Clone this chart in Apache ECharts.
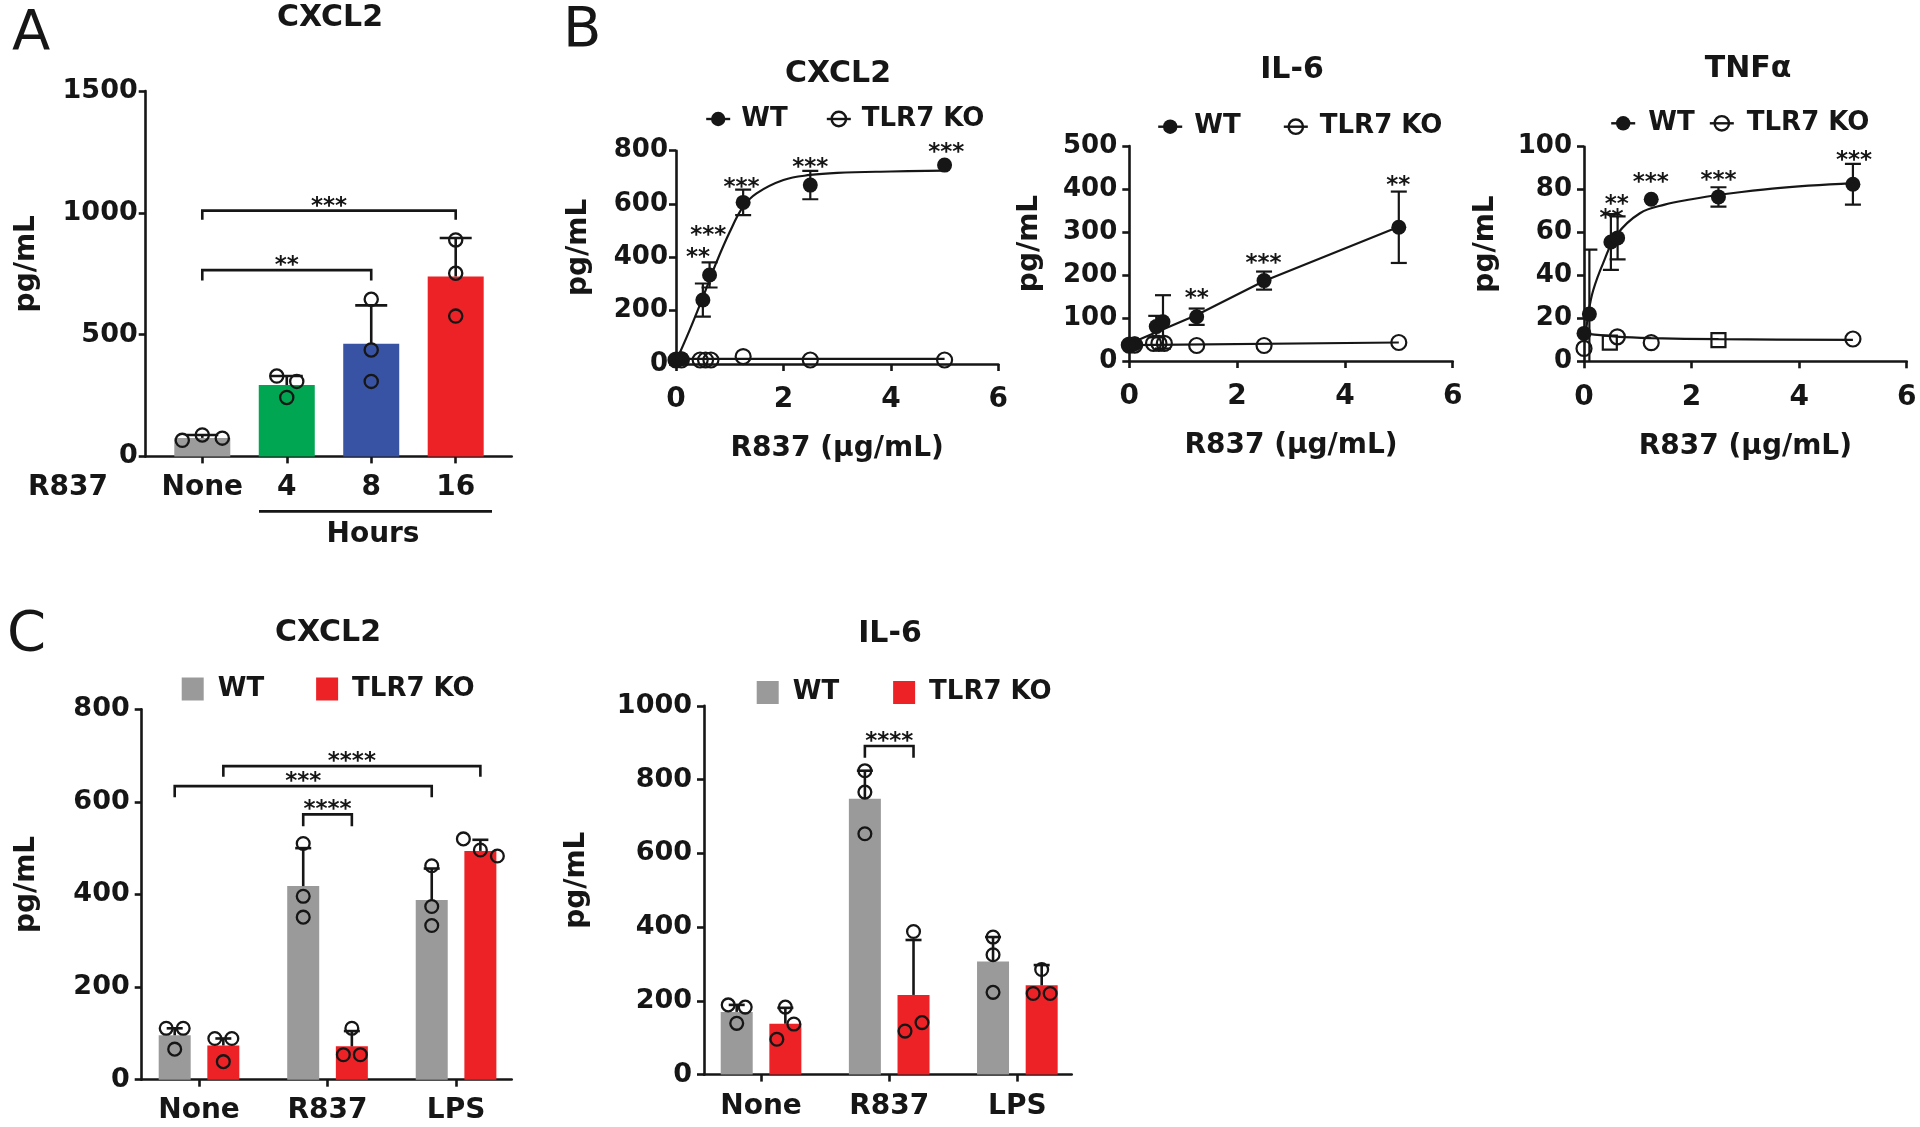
<!DOCTYPE html>
<html>
<head>
<meta charset="utf-8">
<script src="https://cdn.jsdelivr.net/npm/echarts@6/dist/echarts.min.js"></script>
<style>
html,body{margin:0;padding:0;background:#ffffff;}
#chart{width:1920px;height:1127px;}
</style>
</head>
<body>
<div id="chart"></div>
<script>
// ================= DATA =================
// Panel A : CXCL2, R837 time course
const aCategories = ['None', '4', '8', '16'];
const aMeans = [76, 293, 463, 739];
const aUpper = [88, 330, 620, 897];
const aPoints = [[66, 88, 75], [330, 242, 308], [645, 437, 308], [889, 752, 576]];
const aColors = ['#9c9c9c', '#00a651', '#3953a4', '#ec2227'];
const aBrackets = [[0, 2, 765, 722], [0, 3, 1009, 972]];   // from, to, top, leg end
const aBracketStars = ['**', '***'];

// Panel B : dose response (R837 ug/mL)
const bWtDose = [0, 0.1, 0.5, 0.625, 1.25, 2.5, 5];
const bKoDose = [0, 0.1, 0.45, 0.55, 0.65, 1.25, 2.5, 5];
const tnfKoDose = [0, 0.48, 0.62, 1.25, 2.5, 5];
const tnfKoSymbols = ['circle', 'rect', 'circle', 'circle', 'rect', 'circle'];

const b1WtMean = [15, 20, 240, 334, 606, 671, 746];
const b1WtSd = [0, 0, 62, 47, 48, 53, 0];
const b1KoMean = [15, 15, 15, 15, 15, 28, 15, 15];
const b1WtFit = [[0, 10], [0.25, 125], [0.5, 250], [0.75, 380], [1, 495], [1.25, 590], [1.5, 640], [2, 690], [2.5, 709], [3, 717], [4, 722], [5, 725]];
const b1KoFit = [[0, 19], [5, 19]];
const b1StarPos = [[0.41, 421], [0.6, 502], [1.22, 684], [2.5, 756], [5.03, 813]];
const b1Stars = ['**', '***', '***', '***', '***'];

const b2WtMean = [37, 40, 80, 91, 103, 187, 311];
const b2WtSd = [0, 0, 25, 62, 19, 21, 83];
const b2KoMean = [37, 37, 41, 41, 41, 36, 36, 43];
const b2WtFit = [[0, 40], [1.25, 107], [2.5, 186], [5, 312]];
const b2KoFit = [[0, 37], [5, 43]];
const b2StarPos = [[1.25, 157], [2.49, 239], [4.99, 421]];
const b2Stars = ['**', '***', '**'];

const b3WtMean = [13, 22, 55.6, 57.5, 75.5, 76.6, 82.5];
const b3WtSd = [0, 30, 13, 10, 0, 4.5, 9.5];
const b3KoMean = [6, 8.7, 11.4, 8.7, 9.9, 10.4];
const b3WtFit = [[0.02, 10], [0.08, 22], [0.17, 33], [0.36, 46], [0.61, 59], [1.04, 69], [1.5, 73], [2, 75.5], [2.5, 77.5], [3.5, 80.5], [5, 83]];
const b3KoFit = [[0, 13], [0.6, 11.5], [1.25, 10.8], [2.5, 10.3], [5, 10]];
const b3StarPos = [[0.51, 69], [0.61, 75.4], [1.24, 86], [2.5, 86.7], [5.02, 96]];
const b3Stars = ['**', '**', '***', '***', '***'];

// Panel C : WT vs TLR7 KO
const cCategories = ['None', 'R837', 'LPS'];
const c1WtMean = [96, 418, 388];
const c1KoMean = [74, 72, 494];
const c1WtUpper = [111, 500, 456];
const c1KoUpper = [89, 105, 518];
const c1WtPoints = [[111, 111, 66], [510, 396, 351], [462, 374, 333]];
const c1KoPoints = [[89, 89, 39], [111, 54, 54], [520, 496, 483]];
const c1Brackets = [[0, 1, 2, 1, 677, 654], [0, -1, 2, -1, 634, 610], [1, -1, 1, 1, 573, 547]]; // cat,side,cat,side,top,leg
const c1BracketStars = ['****', '***', '****'];

const c2WtMean = [170, 748, 307];
const c2KoMean = [138, 216, 242];
const c2WtUpper = [189, 824, 373];
const c2KoUpper = [181, 365, 297];
const c2WtPoints = [[189, 183, 139], [824, 766, 653], [373, 325, 223]];
const c2KoPoints = [[183, 96, 137], [388, 118, 141], [285, 220, 220]];
const c2Brackets = [[1, -1, 1, 1, 891, 859]];
const c2BracketStars = ['****'];

// ================= STYLE / LAYOUT =================
const INK = '#161616';
const FONT = 'DejaVu Sans';
const LW = 2.6;
const STAR_FONT = 'bold 23px "DejaVu Sans"';
const STAR_SHIFT = 6;
const C_BAR_W = 32, C_BAR_GAP = 0.52;
const C_OFF = (C_BAR_W + C_BAR_W * C_BAR_GAP) / 2;

const grids = [
  {left: 145.7, top: 91.1, width: 366, height: 365.3},
  {left: 676, top: 150.7, width: 322.3, height: 213.3},
  {left: 1129.3, top: 146, width: 323.4, height: 215},
  {left: 1584, top: 146.7, width: 322.7, height: 214.6},
  {left: 141.7, top: 709.2, width: 370, height: 370.5},
  {left: 704, top: 705.8, width: 367.7, height: 368.8}
].map(g => Object.assign({containLabel: false, outerBoundsMode: 'none', show: false}, g));

function axis(gi, o) {
  const ax = {
    type: 'value', gridIndex: gi, min: o.min, max: o.max,
    axisLine: {show: true, onZero: false, lineStyle: {color: INK, width: LW}},
    axisTick: {show: true, inside: false, length: 7, lineStyle: {color: INK, width: LW}},
    axisLabel: {show: true, color: INK, fontFamily: FONT, fontWeight: 'bold', fontSize: o.fs || 26,
      margin: o.margin, formatter: o.fmt || (v => String(v))},
    splitLine: {show: false}
  };
  if (o.interval) ax.interval = o.interval;
  if (o.ticks) { ax.axisTick.customValues = o.ticks; ax.axisLabel.customValues = o.ticks; }
  if (o.name) {
    ax.name = o.name; ax.nameLocation = 'middle'; ax.nameGap = o.nameGap;
    ax.nameTextStyle = {color: INK, fontFamily: FONT, fontWeight: 'bold', fontSize: 28, lineHeight: 28, padding: o.namePad || 0};
  }
  return ax;
}
const catFmt = cats => (v => { const i = Math.round(v); return Math.abs(v - i) < 1e-6 && cats[i] !== undefined ? cats[i] : ''; });
const YPAD = [0, 0, 0, 20];
const xAxes = [
  axis(0, {min: -0.67, max: 3.663, ticks: [0, 1, 2, 3], fmt: catFmt(aCategories), fs: 28, margin: 17}),
  axis(1, {min: 0, max: 6, interval: 2, fs: 28, margin: 22, name: 'R837 (μg/mL)', nameGap: 71}),
  axis(2, {min: 0, max: 6, interval: 2, fs: 28, margin: 22, name: 'R837 (μg/mL)', nameGap: 71}),
  axis(3, {min: 0, max: 6, interval: 2, fs: 28, margin: 22, name: 'R837 (μg/mL)', nameGap: 71}),
  axis(4, {min: -0.446, max: 2.433, ticks: [0, 1, 2], fmt: catFmt(cCategories), fs: 28, margin: 17}),
  axis(5, {min: -0.445, max: 2.424, ticks: [0, 1, 2], fmt: catFmt(cCategories), fs: 28, margin: 18})
];
const yAxes = [
  axis(0, {min: 0, max: 1500, interval: 500, margin: 8, fs: 27, name: 'pg/mL', nameGap: 105, namePad: YPAD}),
  axis(1, {min: 0, max: 800, interval: 200, margin: 8, name: 'pg/mL', nameGap: 83, namePad: YPAD}),
  axis(2, {min: 0, max: 500, interval: 100, margin: 12, name: 'pg/mL', nameGap: 86, namePad: YPAD}),
  axis(3, {min: 0, max: 100, interval: 20, margin: 12, name: 'pg/mL', nameGap: 84, namePad: YPAD}),
  axis(4, {min: 0, max: 800, interval: 200, margin: 12, fs: 27, name: 'pg/mL', nameGap: 101, namePad: YPAD}),
  axis(5, {min: 0, max: 1000, interval: 200, margin: 12, fs: 27, name: 'pg/mL', nameGap: 113, namePad: YPAD})
];

// spread overlapping replicate dots horizontally (beeswarm-like rule)
function spread(ys, thr, d) {
  const idx = ys.map((y, i) => i).sort((a, b) => ys[a] - ys[b]);
  const off = ys.map(() => 0);
  let cl = [idx[0]];
  const flush = () => { const m = cl.slice().sort((a, b) => a - b); m.forEach((k, j) => { off[k] = (j - (m.length - 1) / 2) * d; }); };
  for (let i = 1; i < idx.length; i++) {
    if (ys[idx[i]] - ys[idx[i - 1]] < thr) cl.push(idx[i]); else { flush(); cl = [idx[i]]; }
  }
  flush();
  return off;
}

function pointSeries(ai, data, sideOff, d, r) {
  return {
    type: 'custom', xAxisIndex: ai, yAxisIndex: ai, silent: true, clip: false, z: 5,
    dimensions: ['c', 's', 'v1', 'v2', 'v3'], encode: {x: 0, y: 2},
    data: data,
    renderItem: (params, api) => {
      const cat = api.value(0), side = api.value(1);
      const vals = [api.value(2), api.value(3), api.value(4)];
      const x0 = api.coord([cat, 0])[0] + side * sideOff;
      const ys = vals.map(v => api.coord([cat, v])[1]);
      const off = spread(ys, 16, d);
      return {type: 'group', children: ys.map((y, i) => ({
        type: 'circle', shape: {cx: x0 + off[i], cy: y, r: r},
        style: {fill: 'none', stroke: INK, lineWidth: 2.3}
      }))};
    }
  };
}
function errorUpSeries(ai, data, sideOff, halfCap) {
  return {
    type: 'custom', xAxisIndex: ai, yAxisIndex: ai, silent: true, clip: false, z: 4,
    dimensions: ['c', 's', 'm', 'u'], encode: {x: 0, y: 2},
    data: data,
    renderItem: (params, api) => {
      const cat = api.value(0), side = api.value(1);
      const p1 = api.coord([cat, api.value(2)]), p2 = api.coord([cat, api.value(3)]);
      const x = p1[0] + side * sideOff;
      const st = {stroke: INK, lineWidth: LW};
      return {type: 'group', children: [
        {type: 'line', shape: {x1: x, y1: p1[1], x2: x, y2: p2[1]}, style: st},
        {type: 'line', shape: {x1: x - halfCap, y1: p2[1], x2: x + halfCap, y2: p2[1]}, style: st}
      ]};
    }
  };
}
function bracketSeries(ai, data, texts, sideOff) {
  return {
    type: 'custom', xAxisIndex: ai, yAxisIndex: ai, silent: true, clip: false, z: 6,
    dimensions: ['c1', 's1', 'c2', 's2', 'top', 'leg'], encode: {x: 0, y: 4},
    data: data,
    renderItem: (params, api) => {
      const a = api.coord([api.value(0), api.value(4)]);
      const b = api.coord([api.value(2), api.value(4)]);
      const leg = api.coord([api.value(0), api.value(5)])[1];
      const x1 = a[0] + api.value(1) * sideOff, x2 = b[0] + api.value(3) * sideOff, y = a[1];
      return {type: 'group', children: [
        {type: 'polyline', shape: {points: [[x1, leg], [x1, y], [x2, y], [x2, leg]]}, style: {stroke: INK, lineWidth: LW, fill: 'none'}},
        {type: 'text', x: (x1 + x2) / 2, y: y - 10 + STAR_SHIFT,
          style: {text: texts[params.dataIndex], fill: INK, font: STAR_FONT, align: 'center', verticalAlign: 'middle'}}
      ]};
    }
  };
}
function starSeries(ai, pos, texts) {
  return {
    type: 'custom', xAxisIndex: ai, yAxisIndex: ai, silent: true, clip: false, z: 6,
    encode: {x: 0, y: 1}, data: pos,
    renderItem: (params, api) => {
      const p = api.coord([api.value(0), api.value(1)]);
      return {type: 'text', x: p[0], y: p[1] + STAR_SHIFT,
        style: {text: texts[params.dataIndex], fill: INK, font: STAR_FONT, align: 'center', verticalAlign: 'middle'}};
    }
  };
}
function errorBothSeries(ai, dose, mean, sd) {
  return {
    type: 'custom', xAxisIndex: ai, yAxisIndex: ai, silent: true, clip: true, z: 3,
    encode: {x: 0, y: 1},
    data: dose.map((x, k) => [x, mean[k], sd[k]]),
    renderItem: (params, api) => {
      const s = api.value(2);
      if (!s) return null;
      const x = api.value(0), m = api.value(1);
      const p1 = api.coord([x, m - s]), p2 = api.coord([x, m + s]);
      const st = {stroke: INK, lineWidth: 2.2};
      const w = 8;
      return {type: 'group', children: [
        {type: 'line', shape: {x1: p1[0], y1: p1[1], x2: p2[0], y2: p2[1]}, style: st},
        {type: 'line', shape: {x1: p1[0] - w, y1: p1[1], x2: p1[0] + w, y2: p1[1]}, style: st},
        {type: 'line', shape: {x1: p2[0] - w, y1: p2[1], x2: p2[0] + w, y2: p2[1]}, style: st}
      ]};
    }
  };
}
function bPanel(ai, tag, wtMean, wtSd, koDose, koMean, wtFit, koFit, starPos, stars, koSymbols, smoothWt) {
  return [
    {type: 'line', name: tag + 'WT', xAxisIndex: ai, yAxisIndex: ai, data: wtFit, smooth: smoothWt ? 0.4 : false,
      showSymbol: false, symbol: 'circle', symbolSize: 14, silent: true, z: 2,
      itemStyle: {color: INK}, lineStyle: {color: INK, width: 2.2}},
    {type: 'line', name: tag + 'KO', xAxisIndex: ai, yAxisIndex: ai, data: koFit, smooth: 0.3,
      showSymbol: false, symbol: 'circle', symbolSize: 14, silent: true, z: 2,
      itemStyle: {color: 'rgba(255,255,255,0)', borderColor: INK, borderWidth: 2.2}, lineStyle: {color: INK, width: 2.2}},
    errorBothSeries(ai, bWtDose, wtMean, wtSd),
    {type: 'scatter', xAxisIndex: ai, yAxisIndex: ai, silent: true, z: 4, symbol: 'circle', symbolSize: 15,
      itemStyle: {color: INK, opacity: 1}, data: bWtDose.map((x, k) => [x, wtMean[k]])},
    {type: 'scatter', xAxisIndex: ai, yAxisIndex: ai, silent: true, z: 4, symbol: 'circle', symbolSize: 15,
      itemStyle: {color: 'rgba(255,255,255,0)', borderColor: INK, borderWidth: 2.2, opacity: 1},
      data: koDose.map((x, k) => ({value: [x, koMean[k]], symbol: koSymbols ? koSymbols[k] : 'circle', symbolSize: koSymbols && koSymbols[k] === 'rect' ? 14 : 15}))},
    starSeries(ai, starPos, stars)
  ];
}

const series = [];
// Panel A
series.push({type: 'bar', xAxisIndex: 0, yAxisIndex: 0, barWidth: 56, silent: true, z: 2,
  data: aMeans.map((v, k) => ({value: [k, v], itemStyle: {color: aColors[k]}}))});
series.push(errorUpSeries(0, aMeans.map((m, k) => [k, 0, m, aUpper[k]]), 0, 16));
series.push(pointSeries(0, aPoints.map((p, k) => [k, 0].concat(p)), 0, 20, 6.6));
series.push(bracketSeries(0, aBrackets.map(b => [b[0], 0, b[1], 0, b[2], b[3]]), aBracketStars, 0));
// Panel B
series.push(...bPanel(1, 'B1', b1WtMean, b1WtSd, bKoDose, b1KoMean, b1WtFit, b1KoFit, b1StarPos, b1Stars, null, true));
series.push(...bPanel(2, 'B2', b2WtMean, b2WtSd, bKoDose, b2KoMean, b2WtFit, b2KoFit, b2StarPos, b2Stars, null, false));
series.push(...bPanel(3, 'B3', b3WtMean, b3WtSd, tnfKoDose, b3KoMean, b3WtFit, b3KoFit, b3StarPos, b3Stars, tnfKoSymbols, true));
// Panel C
function cPanel(ai, tag, wtMean, koMean, wtUp, koUp, wtPts, koPts, brackets, bStars) {
  return [
    {type: 'bar', name: tag + 'WT', xAxisIndex: ai, yAxisIndex: ai, barWidth: C_BAR_W, barGap: (C_BAR_GAP * 100) + '%',
      silent: true, z: 2, itemStyle: {color: '#9a9a9a'}, data: wtMean.map((v, k) => [k, v])},
    {type: 'bar', name: tag + 'KO', xAxisIndex: ai, yAxisIndex: ai, barWidth: C_BAR_W, barGap: (C_BAR_GAP * 100) + '%',
      silent: true, z: 2, itemStyle: {color: '#ec2227'}, data: koMean.map((v, k) => [k, v])},
    errorUpSeries(ai, wtMean.map((m, k) => [k, -1, m, wtUp[k]]), C_OFF, 8),
    errorUpSeries(ai, koMean.map((m, k) => [k, 1, m, koUp[k]]), C_OFF, 8),
    pointSeries(ai, wtPts.map((p, k) => [k, -1].concat(p)), C_OFF, 17, 6.4),
    pointSeries(ai, koPts.map((p, k) => [k, 1].concat(p)), C_OFF, 17, 6.4),
    bracketSeries(ai, brackets, bStars, C_OFF)
  ];
}
series.push(...cPanel(4, 'C1', c1WtMean, c1KoMean, c1WtUpper, c1KoUpper, c1WtPoints, c1KoPoints, c1Brackets, c1BracketStars));
series.push(...cPanel(5, 'C2', c2WtMean, c2KoMean, c2WtUpper, c2KoUpper, c2WtPoints, c2KoPoints, c2Brackets, c2BracketStars));

// titles
const titleStyle = {color: INK, fontFamily: FONT, fontWeight: 'bold', fontSize: 30, lineHeight: 30};
const titles = [
  ['CXCL2', 330, 18.7], ['CXCL2', 838, 74], ['IL-6', 1292, 70], ['TNFα', 1748, 69],
  ['CXCL2', 328, 633.5], ['IL-6', 890, 634.5]
].map(t => ({text: t[0], left: t[1], top: t[2] - 15, textAlign: 'center', padding: 0, itemGap: 0, textStyle: titleStyle}));

// legends
const legText = {color: INK, fontFamily: FONT, fontWeight: 'bold', fontSize: 26, lineHeight: 26};
const legFmt = n => n.endsWith('WT') ? 'WT' : 'TLR7 KO';
function lineLegend(tag, left, cy, gap, pad) {
  return {
    left: left, top: cy - 13, orient: 'horizontal', padding: 0, itemWidth: 24, itemHeight: 18, itemGap: gap,
    selectedMode: false, formatter: legFmt,
    textStyle: Object.assign({padding: [0, 0, 0, pad]}, legText),
    data: [
      {name: tag + 'WT', itemStyle: {color: INK, borderWidth: 0, opacity: 1}, lineStyle: {color: INK, width: 2.4}},
      {name: tag + 'KO', itemStyle: {color: 'rgba(255,255,255,0)', borderColor: INK, borderWidth: 2.4, opacity: 1}, lineStyle: {color: INK, width: 2.4}}
    ]
  };
}
function barLegend(tag, left, cy, gap) {
  return {
    left: left, top: cy - 13, orient: 'horizontal', padding: 0, itemWidth: 22, itemHeight: 23, itemGap: gap,
    selectedMode: false, formatter: legFmt, icon: 'rect',
    textStyle: Object.assign({padding: [0, 0, 0, 9]}, legText),
    data: [tag + 'WT', tag + 'KO']
  };
}
const legends = [
  lineLegend('B1', 705, 119, 38, 6),
  lineLegend('B2', 1157, 126.7, 42, 7),
  lineLegend('B3', 1610, 123.3, 14, 8),
  barLegend('C1', 181.7, 689, 52),
  barLegend('C2', 756.7, 692.5, 54)
];

// panel letters and annotations
const graphics = [
  {type: 'text', x: 12, y: 34.8, style: {text: 'A', font: '56px "DejaVu Sans"', fill: INK, align: 'left', verticalAlign: 'middle'}},
  {type: 'text', x: 563, y: 31.5, style: {text: 'B', font: '56px "DejaVu Sans"', fill: INK, align: 'left', verticalAlign: 'middle'}},
  {type: 'text', x: 7, y: 635, style: {text: 'C', font: '56px "DejaVu Sans"', fill: INK, align: 'left', verticalAlign: 'middle'}},
  {type: 'text', x: 28, y: 487.5, style: {text: 'R837', font: 'bold 28px "DejaVu Sans"', fill: INK, align: 'left', verticalAlign: 'middle'}},
  {type: 'text', x: 373, y: 535, style: {text: 'Hours', font: 'bold 28px "DejaVu Sans"', fill: INK, align: 'center', verticalAlign: 'middle'}},
  {type: 'line', shape: {x1: 259, y1: 511.4, x2: 492, y2: 511.4}, style: {stroke: INK, lineWidth: LW}}
];

const option = {
  backgroundColor: '#ffffff',
  animation: false,
  title: titles,
  legend: legends,
  grid: grids,
  xAxis: xAxes,
  yAxis: yAxes,
  series: series,
  graphic: {elements: graphics}
};
const chart = echarts.init(document.getElementById('chart'), null, {renderer: 'canvas'});
chart.setOption(option);
</script>
</body>
</html>
